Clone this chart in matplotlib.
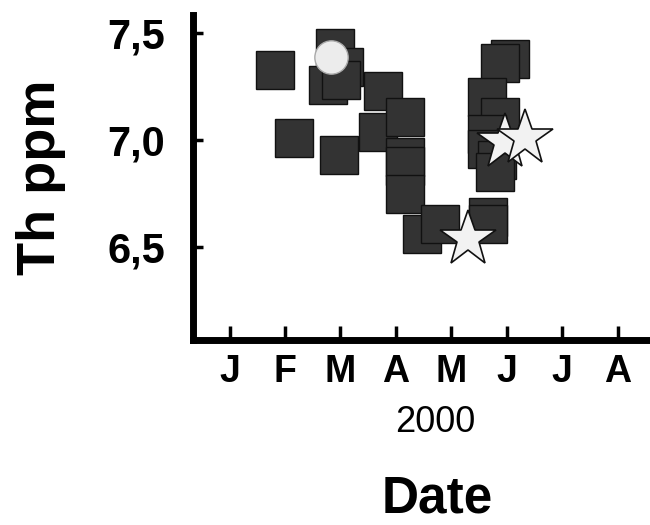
import matplotlib
matplotlib.use("Agg")
import matplotlib.pyplot as plt

plt.rcParams['font.family'] = ['Liberation Sans', 'DejaVu Sans']

# month index: 0 = Jan 2000
sq_month = [0.81, 1.17, 1.97, 1.90, 2.06, 1.78, 2.01, 2.76, 2.68, 3.16, 3.16, 3.16, 3.16,
            3.48, 3.79, 4.67, 4.67, 5.06, 4.87, 4.65, 4.88, 4.65, 4.65, 4.83, 4.78]
sq_th = [7.33, 7.01, 6.93, 7.43, 7.34, 7.26, 7.28, 7.23, 7.04, 7.11, 6.92, 6.88, 6.75,
         6.56, 6.61, 6.64, 6.61, 7.38, 7.36, 7.20, 7.11, 7.03, 6.96, 6.91, 6.85]
circ_month = [1.83]
circ_th = [7.39]
star_month = [4.31, 4.97, 5.33]
star_th = [6.54, 6.99, 7.01]

months = ['J', 'F', 'M', 'A', 'M', 'J', 'J', 'A']
yticks = [6.5, 7.0, 7.5]
ylabels = ['6,5', '7,0', '7,5']

fig = plt.figure(figsize=(6.5, 5.25), dpi=100)
ax = fig.add_axes([0.297, 0.352, 0.70, 0.619])

ax.plot(sq_month, sq_th, 's', ms=27, mfc='#333333', mec='#111111', mew=1, ls='none', zorder=3)
ax.plot(circ_month, circ_th, 'o', ms=24, mfc='#ececec', mec='#aaaaaa', mew=1, ls='none', zorder=4)
ax.plot(star_month, star_th, '*', ms=42, mfc='#f2f2f2', mec='#111111', mew=1.2, ls='none', zorder=4)

ax.set_xlim(-0.66, 7.55)
ax.set_ylim(6.066, 7.584)

ax.set_xticks(range(len(months)))
ax.set_xticklabels(months, fontsize=27, fontweight='bold')
ax.set_yticks(yticks)
ax.set_yticklabels(ylabels, fontsize=30, fontweight='bold')

ax.tick_params(axis='x', direction='in', length=10, width=2.5, pad=10)
ax.tick_params(axis='y', direction='in', length=7, width=2.5, pad=20)

for s in ['top', 'right']:
    ax.spines[s].set_visible(False)
for s in ['left', 'bottom']:
    ax.spines[s].set_linewidth(5)

ax.set_ylabel('Th ppm', fontsize=39, fontweight='bold', labelpad=30)
fig.text(0.669, 0.196, '2000', fontsize=26, ha='center', va='center')
fig.text(0.672, 0.05, 'Date', fontsize=37, fontweight='bold', ha='center', va='center')

fig.savefig('out.png', dpi=100)
